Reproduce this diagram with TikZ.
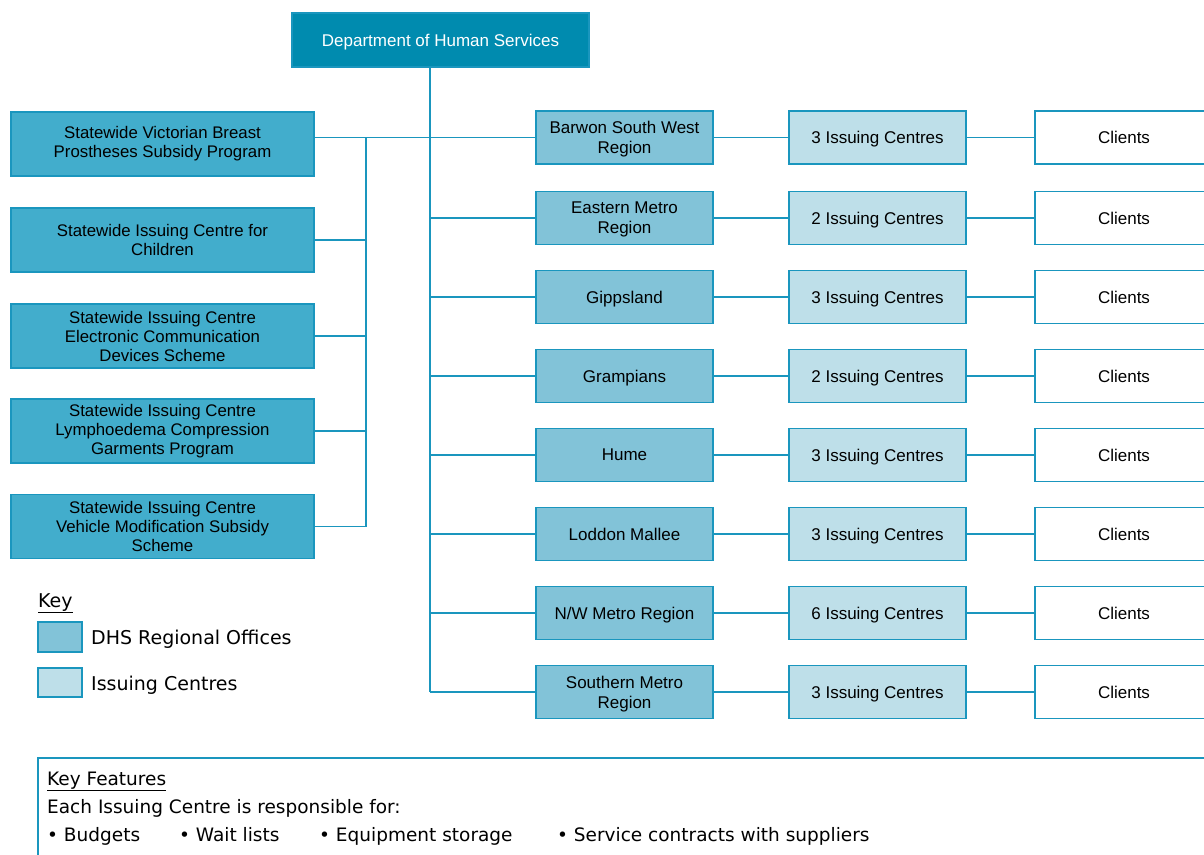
\documentclass[tikz,border=0pt]{standalone}
\usepackage{fontspec}
\setmainfont{Liberation Sans}
\newfontfamily\keyfont{DejaVu Sans}
\definecolor{dhsc}{HTML}{008BAF}
\definecolor{leftc}{HTML}{42ADCC}
\definecolor{regc}{HTML}{82C3D8}
\definecolor{issc}{HTML}{BEDFE9}
\definecolor{edgec}{HTML}{1A96BE}
\begin{document}
\begin{tikzpicture}[x=1pt,y=-1pt,
  boxbase/.style={draw=edgec,line width=1.6pt,inner sep=0pt,align=center,
    font=\fontsize{17}{20}\selectfont},
  dhsbox/.style={boxbase,fill=dhsc,text=white,minimum width=297,minimum height=54,text depth=0pt},
  leftbox/.style={boxbase,fill=leftc,minimum width=303,minimum height=64,font=\fontsize{16.8}{19}\selectfont},
  regbox/.style={boxbase,fill=regc,minimum width=177,minimum height=53,text depth=0pt},
  issbox/.style={boxbase,fill=issc,minimum width=177,minimum height=53,text depth=0pt},
  clibox/.style={boxbase,fill=white,minimum width=178,minimum height=53,text depth=0pt},
  keysq/.style={draw=edgec,line width=1.6pt,fill=#1,minimum width=44,minimum height=30,inner sep=0pt},
  keytext/.style={font=\keyfont\fontsize{19}{22}\selectfont,inner sep=0pt},
  bullettext/.style={font=\keyfont\fontsize{18.5}{22}\selectfont,inner sep=0pt},
  conn/.style={draw=edgec,line width=1.6pt}
]
\clip (0,0) rectangle (1204,854);
\fill[white] (0,0) rectangle (1204,854);

\node[dhsbox] (dhs) at (440.5,40) {Department of Human Services};

\node[leftbox] (L1) at (162.5,144) {Statewide Victorian Breast\\Prostheses Subsidy Program};
\node[leftbox] (L2) at (162.5,240) {Statewide Issuing Centre for\\Children};
\node[leftbox] (L3) at (162.5,336) {Statewide Issuing Centre\\Electronic Communication\\Devices Scheme};
\node[leftbox] (L4) at (162.5,431) {Statewide Issuing Centre\\Lymphoedema Compression\\Garments Program};
\node[leftbox] (L5) at (162.5,526.5) {Statewide Issuing Centre\\Vehicle Modification Subsidy\\Scheme};

\foreach \i/\y/\rname/\num in {
  1/137.5/{Barwon South West\\Region}/3,
  2/218/{Eastern Metro\\Region}/2,
  3/297/{Gippsland}/3,
  4/376/{Grampians}/2,
  5/455/{Hume}/3,
  6/534/{Loddon Mallee}/3,
  7/613/{N/W Metro Region}/6,
  8/692/{Southern Metro\\Region}/3}{
  \node[regbox] (r\i) at (624.5,\y) {\rname};
  \node[issbox] (s\i) at (877.5,\y) {\num\ Issuing Centres};
  \node[clibox] (c\i) at (1124,\y) {Clients};
}

\coordinate (tx) at (430,0);
\coordinate (lx) at (366,0);
\draw[conn] (dhs.south -| tx) -- (tx |- r8.west);
\foreach \i in {1,...,8}{
  \draw[conn] (tx |- r\i.west) -- (r\i.west);
  \draw[conn] (r\i.east) -- (s\i.west);
  \draw[conn] (s\i.east) -- (c\i.west);
}
\draw[conn] (L1.east |- r1.west) -- (tx |- r1.west);
\draw[conn] (lx |- r1.west) -- (lx |- L5.east);
\foreach \i in {2,...,5}{
  \draw[conn] (L\i.east) -- (lx |- L\i.east);
}

% key
\node[keytext,anchor=base west] (keyt) at (38,607) {\underline{Key}};
\node[keysq=regc] (k1) at (60,637) {};
\node[keysq=issc,minimum height=29] (k2) at (60,682.5) {};
\node[keytext,anchor=west] (k1t) at (91,639) {DHS Regional Offices};
\node[keytext,anchor=west] (k2t) at (91,685) {Issuing Centres};

% key features box
\draw[conn] (38,758) rectangle (1215,870);
\node[bullettext,anchor=base west] (kf) at (47,785) {\underline{Key Features}};
\node[bullettext,anchor=base west] (kf2) at (47,813) {Each Issuing Centre is responsible for:};
\node[bullettext,anchor=base west] (b1) at (47,841) {• Budgets};
\node[bullettext,anchor=base west] (b2) at (179,841) {• Wait lists};
\node[bullettext,anchor=base west] (b3) at (319,841) {• Equipment storage};
\node[bullettext,anchor=base west] (b4) at (557,841) {• Service contracts with suppliers};
\end{tikzpicture}
\end{document}
